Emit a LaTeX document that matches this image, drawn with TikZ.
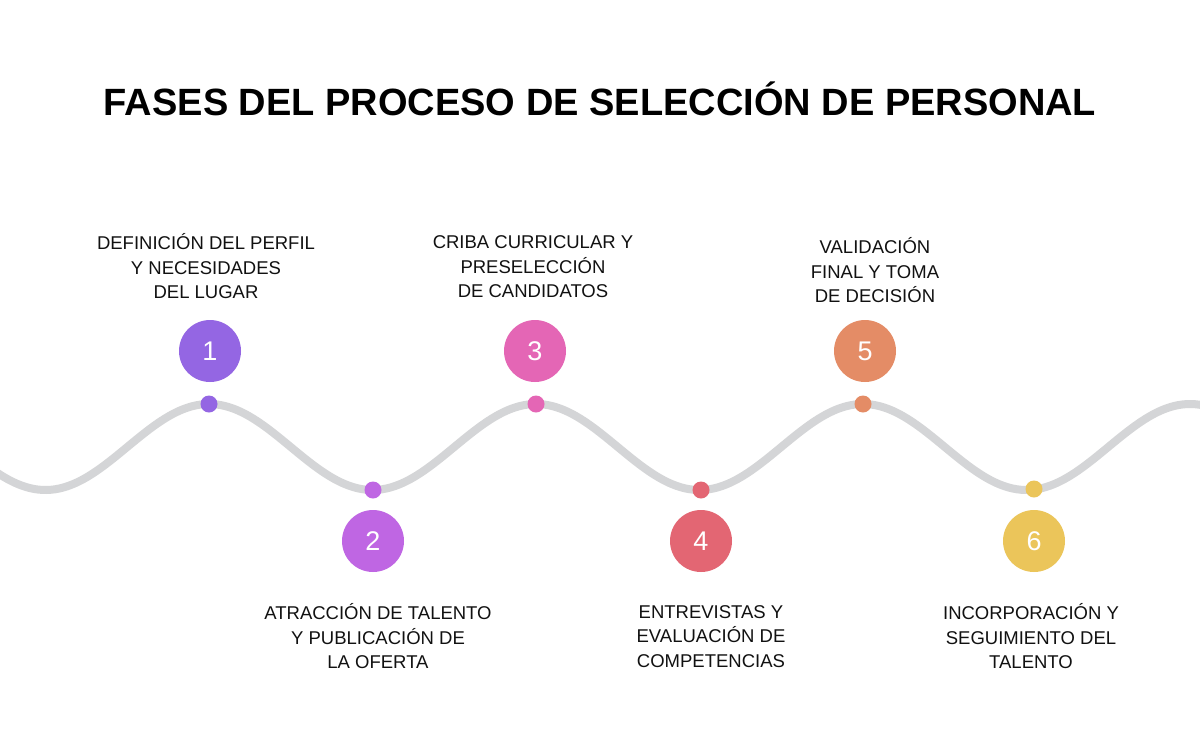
\documentclass[tikz,border=0pt]{standalone}
\usepackage{fontspec}
\setmainfont{Liberation Sans}
\definecolor{wavegray}{HTML}{D4D5D7}
\definecolor{cone}{HTML}{9466E3}
\definecolor{ctwo}{HTML}{BF66E3}
\definecolor{cthree}{HTML}{E466B5}
\definecolor{cfour}{HTML}{E36673}
\definecolor{cfive}{HTML}{E48C66}
\definecolor{csix}{HTML}{EBC55A}
\definecolor{ink}{HTML}{111111}
\begin{document}
\begin{tikzpicture}[x=1pt,y=-1pt,
  bignum/.style={circle, fill=#1, minimum size=62pt, inner sep=0pt, text=white,
    font=\fontsize{27}{27}\selectfont},
  wavedot/.style={circle, fill=#1, minimum size=17pt, inner sep=0pt},
  steplabel/.style={align=center, inner sep=0pt, text=ink,
    font=\fontsize{18.5}{24.5}\selectfont}]
\fill[white] (0,0) rectangle (1200,750);
\useasboundingbox (0,0) rectangle (1200,750);
\begin{scope}
\clip (0,0) rectangle (1200,750);
\draw[wavegray, line width=8pt] plot[domain=-20:1220, samples=300, smooth]
  (\x, {447-43*cos((\x-209)/327*360)});
\end{scope}

\node[text=black, inner sep=0pt, font=\fontsize{38}{38}\selectfont\bfseries] (title) at (600,99)
  {FASES DEL PROCESO DE SELECCIÓN DE PERSONAL};

\node[wavedot=cone] (d1) at (209,404) {};
\node[wavedot=ctwo] (d2) at (373,490) {};
\node[wavedot=cthree] (d3) at (536,404) {};
\node[wavedot=cfour] (d4) at (701,490) {};
\node[wavedot=cfive] (d5) at (863,404) {};
\node[wavedot=csix] (d6) at (1034,489) {};

\node[bignum=cone] (n1) at (210,351) {1};
\node[bignum=ctwo] (n2) at (373,541) {2};
\node[bignum=cthree] (n3) at (535,351) {3};
\node[bignum=cfour] (n4) at (701,541) {4};
\node[bignum=cfive] (n5) at (865,351) {5};
\node[bignum=csix] (n6) at (1034,541) {6};

\node[steplabel] (t1) at (206,266.5) {DEFINICIÓN DEL PERFIL\\Y NECESIDADES\\DEL LUGAR};
\node[steplabel] (t2) at (378,636.5) {ATRACCIÓN DE TALENTO\\Y PUBLICACIÓN DE\\LA OFERTA};
\node[steplabel] (t3) at (533,267) {CRIBA CURRICULAR Y\\PRESELECCIÓN\\DE CANDIDATOS};
\node[steplabel] (t4) at (711,636.5) {ENTREVISTAS Y\\EVALUACIÓN DE\\COMPETENCIAS};
\node[steplabel] (t5) at (875,270.5) {VALIDACIÓN\\FINAL Y TOMA\\DE DECISIÓN};
\node[steplabel] (t6) at (1031,636.5) {INCORPORACIÓN Y\\SEGUIMIENTO DEL\\TALENTO};
\end{tikzpicture}
\end{document}
